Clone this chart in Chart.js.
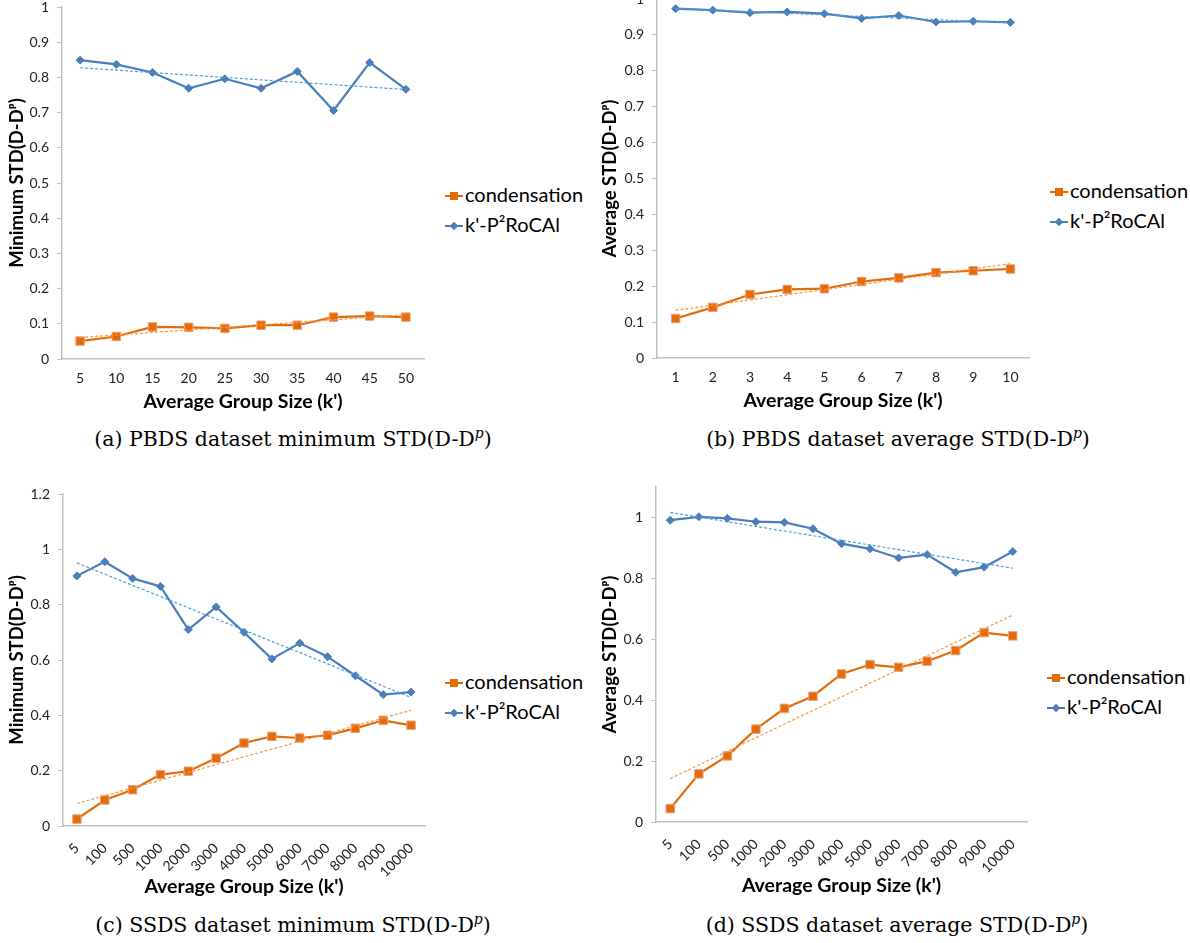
<!DOCTYPE html>
<html>
<head>
<meta charset="utf-8">
<script src="https://cdn.jsdelivr.net/npm/chart.js@4.4.1/dist/chart.umd.min.js"></script>
<style>
  html, body { margin: 0; padding: 0; background: #fff; }
  #page { position: relative; width: 1190px; height: 943px; overflow: hidden; background: #fff; }
  #page canvas { position: absolute; }
  .legend { position: absolute; font-family: Lato, "Open Sans", sans-serif; font-size: 20px; color: #000; line-height: 30px; white-space: nowrap; }
  .key { display: inline-block; position: relative; width: 18px; height: 2px; vertical-align: middle; margin-right: 2px; top: -1px; }
  .key i { position: absolute; display: block; }
  .key.orange { background: #e36c09; }
  .key.orange i { left: 5px; top: -3px; width: 8px; height: 8px; background: #e36c09; }
  .key.blue { background: #4a7ebb; }
  .key.blue i { left: 6px; top: -2px; width: 6px; height: 6px; background: #4a7ebb; transform: rotate(45deg); }
  .caption { position: absolute; width: 560px; text-align: center; font-family: "DejaVu Serif", serif; font-size: 20.5px; color: #000; line-height: 24px; white-space: nowrap; }
  .caption sup { font-size: 14px; font-style: italic; vertical-align: 8px; line-height: 0; }
</style>
</head>
<body>
<div id="page">
  <canvas id="chartA"></canvas>
  <canvas id="chartB"></canvas>
  <canvas id="chartC"></canvas>
  <canvas id="chartD"></canvas>

  <div class="legend" style="left:445px; top:179px;">
    <div><span class="key orange"><i></i></span>condensation</div>
    <div><span class="key blue"><i></i></span>k'-P²RoCAl</div>
  </div>
  <div class="legend" style="left:1050px; top:175px;">
    <div><span class="key orange"><i></i></span>condensation</div>
    <div><span class="key blue"><i></i></span>k'-P²RoCAl</div>
  </div>
  <div class="legend" style="left:445px; top:666px;">
    <div><span class="key orange"><i></i></span>condensation</div>
    <div><span class="key blue"><i></i></span>k'-P²RoCAl</div>
  </div>
  <div class="legend" style="left:1047px; top:661px;">
    <div><span class="key orange"><i></i></span>condensation</div>
    <div><span class="key blue"><i></i></span>k'-P²RoCAl</div>
  </div>

  <div class="caption" style="left:13px; top:427px;">(a) PBDS dataset minimum STD(D-D<sup>p</sup>)</div>
  <div class="caption" style="left:618px; top:427px;">(b) PBDS dataset average STD(D-D<sup>p</sup>)</div>
  <div class="caption" style="left:13px; top:913px;">(c) SSDS dataset minimum STD(D-D<sup>p</sup>)</div>
  <div class="caption" style="left:617px; top:913px;">(d) SSDS dataset average STD(D-D<sup>p</sup>)</div>
</div>

<script>
// group sizes k'
const kPbdsMin = ['5', '10', '15', '20', '25', '30', '35', '40', '45', '50'];
const kPbdsAvg = ['1', '2', '3', '4', '5', '6', '7', '8', '9', '10'];
const kSsds = ['5', '100', '500', '1000', '2000', '3000', '4000', '5000', '6000', '7000', '8000', '9000', '10000'];

// (a) PBDS minimum STD
const condPbdsMin = [0.051, 0.064, 0.091, 0.090, 0.087, 0.096, 0.096, 0.119, 0.122, 0.119];
const kprocPbdsMin = [0.849, 0.837, 0.814, 0.769, 0.796, 0.769, 0.817, 0.706, 0.842, 0.766];

// (b) PBDS average STD
const condPbdsAvg = [0.110, 0.141, 0.177, 0.191, 0.193, 0.213, 0.223, 0.238, 0.243, 0.248];
const kprocPbdsAvg = [0.973, 0.969, 0.962, 0.964, 0.959, 0.946, 0.954, 0.936, 0.938, 0.935];

// (c) SSDS minimum STD
const condSsdsMin = [0.025, 0.094, 0.131, 0.186, 0.198, 0.245, 0.300, 0.324, 0.318, 0.328, 0.353, 0.382, 0.364];
const kprocSsdsMin = [0.904, 0.955, 0.895, 0.866, 0.710, 0.792, 0.700, 0.604, 0.661, 0.612, 0.543, 0.475, 0.484];

// (d) SSDS average STD
const condSsdsAvg = [0.044, 0.158, 0.217, 0.305, 0.373, 0.413, 0.486, 0.517, 0.508, 0.528, 0.563, 0.622, 0.611];
const kprocSsdsAvg = [0.991, 1.002, 0.997, 0.986, 0.984, 0.963, 0.914, 0.897, 0.867, 0.878, 0.820, 0.837, 0.888];

const ORANGE = '#e36c09';
const BLUE = '#4a7ebb';
const AXIS_GREY = '#bfbfbf';
const FONT = 'Lato, "Open Sans", sans-serif';

// least-squares linear trend over the category index
function linearTrend(values) {
    const n = values.length;
    let sx = 0, sy = 0, sxx = 0, sxy = 0;
    values.forEach((v, i) => { sx += i; sy += v; sxx += i * i; sxy += i * v; });
    const slope = (n * sxy - sx * sy) / (n * sxx - sx * sx);
    const icpt = (sy - slope * sx) / n;
    return values.map((_, i) => icpt + slope * i);
}

function seriesSets(cond, kproc) {
    return [
        { label: 'condensation trend', data: linearTrend(cond), borderColor: '#f79646', borderWidth: 1.2,
          borderDash: [3, 2], pointRadius: 0, order: 0 },
        { label: "k'-P²RoCAl trend", data: linearTrend(kproc), borderColor: '#4f9de0', borderWidth: 1.2,
          borderDash: [3, 2], pointRadius: 0, order: 0 },
        { label: 'condensation', data: cond, borderColor: ORANGE, borderWidth: 2.2,
          pointStyle: 'rect', pointRadius: 6, pointBackgroundColor: ORANGE,
          pointBorderColor: '#f0a080', pointBorderWidth: 1, order: 1 },
        { label: "k'-P²RoCAl", data: kproc, borderColor: BLUE, borderWidth: 2.2,
          pointStyle: 'rectRot', pointRadius: 4, pointBackgroundColor: BLUE,
          pointBorderColor: BLUE, pointBorderWidth: 1, order: 1 }
    ];
}

function makePanel(id, box, labels, cond, kproc, yTitle, yMax, yStep, rotated) {
    const canvas = document.getElementById(id);
    canvas.width = box.w;
    canvas.height = box.h;
    canvas.style.left = box.left + 'px';
    canvas.style.top = box.top + 'px';
    canvas.style.width = box.w + 'px';
    canvas.style.height = box.h + 'px';

    return new Chart(canvas.getContext('2d'), {
        type: 'line',
        data: { labels: labels, datasets: seriesSets(cond, kproc) },
        options: {
            responsive: false,
            animation: false,
            layout: { padding: { top: box.padTop, right: 0, bottom: 0, left: 0 } },
            plugins: { legend: { display: false }, tooltip: { enabled: false } },
            elements: { line: { tension: 0 } },
            scales: {
                x: {
                    offset: true,
                    grid: { display: false, drawTicks: false },
                    border: { color: AXIS_GREY, width: 1.5 },
                    ticks: {
                        font: { family: FONT, size: 14 }, color: '#222',
                        padding: rotated ? 14 : 11, autoSkip: false,
                        minRotation: rotated ? 45 : 0, maxRotation: rotated ? 45 : 0
                    },
                    title: { display: true, text: "Average Group Size (k')", color: '#000',
                             font: { family: FONT, size: 19.5, weight: 'bold' }, padding: 0 },
                    // fixed axis box so the plot area sits where it should
                    afterFit: s => { s.height = box.xh; s.paddingLeft = 0; s.paddingRight = 0; }
                },
                y: {
                    min: 0, max: yMax,
                    grid: { drawOnChartArea: false, drawTicks: true, tickLength: 5, color: AXIS_GREY },
                    border: { color: AXIS_GREY, width: 1.5 },
                    ticks: {
                        stepSize: yStep, includeBounds: false, padding: 8,
                        font: { family: FONT, size: 14 }, color: '#222',
                        callback: v => +v.toFixed(1)
                    },
                    title: { display: true, text: yTitle, color: '#000',
                             font: { family: FONT, size: 18.5, weight: 'bold' }, padding: { top: box.titlePad, bottom: 0 } },
                    afterFit: s => { s.width = box.yw; s.paddingTop = 0; s.paddingBottom = 0; }
                }
            }
        }
    });
}

makePanel('chartA', { left: 0, top: 0, w: 431, h: 413, padTop: 7, xh: 54, yw: 62, titlePad: 6 },
    kPbdsMin, condPbdsMin, kprocPbdsMin, 'Minimum STD(D-Dᵖ)', 1, 0.1, false);
makePanel('chartB', { left: 595, top: -8, w: 441, h: 420, padTop: 7, xh: 54, yw: 62, titlePad: 4 },
    kPbdsAvg, condPbdsAvg, kprocPbdsAvg, 'Average STD(D-Dᵖ)', 1, 0.1, false);
makePanel('chartC', { left: 0, top: 486, w: 432, h: 412, padTop: 8, xh: 72, yw: 63, titlePad: 6 },
    kSsds, condSsdsMin, kprocSsdsMin, 'Minimum STD(D-Dᵖ)', 1.2, 0.2, true);
makePanel('chartD', { left: 595, top: 479, w: 439, h: 418, padTop: 8, xh: 75, yw: 61, titlePad: 4 },
    kSsds, condSsdsAvg, kprocSsdsAvg, 'Average STD(D-Dᵖ)', 1.1, 0.2, true);
</script>
</body>
</html>
